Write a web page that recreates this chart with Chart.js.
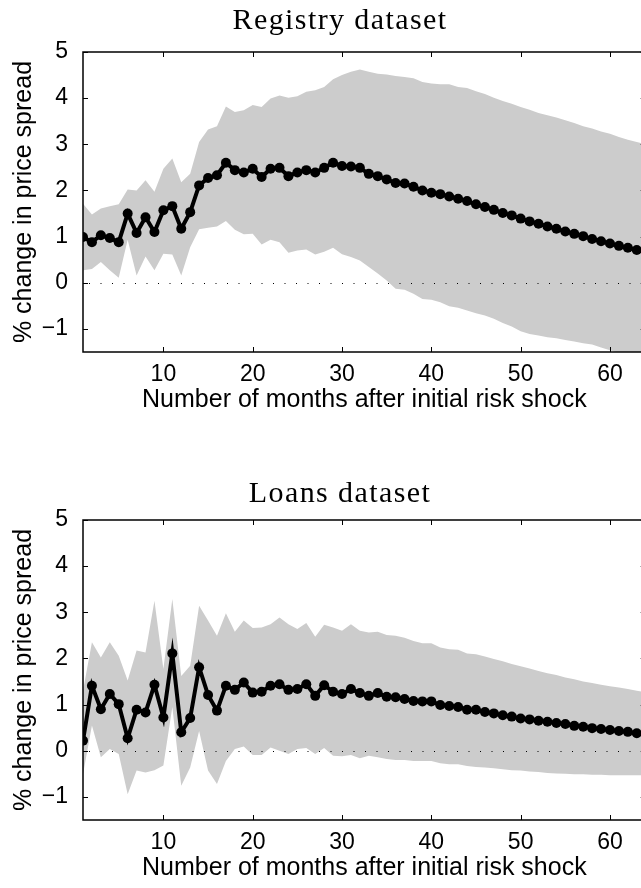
<!DOCTYPE html>
<html>
<head>
<meta charset="utf-8">
<script src="https://cdn.jsdelivr.net/npm/chart.js@4.4.1/dist/chart.umd.min.js"></script>
<style>
  html, body { margin: 0; padding: 0; background: #fff; width: 641px; height: 888px; overflow: hidden; }
  .painel { width: 660px; height: 444px; }
  canvas { display: block; }
</style>
</head>
<body>
<div class="painel"><canvas id="chartRegistro" width="660" height="444"></canvas></div>
<div class="painel"><canvas id="chartEmprestimos" width="660" height="444"></canvas></div>
<script>
// meses após o choque (eixo x) e marcas dos eixos
const meses = [
  1, 2, 3, 4, 5, 6, 7, 8, 9, 10, 11, 12, 13, 14, 15, 16,
  17, 18, 19, 20, 21, 22, 23, 24, 25, 26, 27, 28, 29, 30, 31, 32,
  33, 34, 35, 36, 37, 38, 39, 40, 41, 42, 43, 44, 45, 46, 47, 48,
  49, 50, 51, 52, 53, 54, 55, 56, 57, 58, 59, 60, 61, 62, 63, 64,
];
const ticksMeses = [10, 20, 30, 40, 50, 60];
const ticksSpread = [-1, 0, 1, 2, 3, 4, 5];

// Registry dataset
const registroSpread = [
  0.99, 0.88, 1.03, 0.97, 0.88, 1.50, 1.08, 1.42, 1.10, 1.57,
  1.66, 1.17, 1.53, 2.11, 2.27, 2.33, 2.60, 2.44, 2.39, 2.47,
  2.29, 2.47, 2.49, 2.31, 2.39, 2.44, 2.39, 2.49, 2.60, 2.53,
  2.52, 2.49, 2.36, 2.31, 2.24, 2.16, 2.15, 2.08, 2.00, 1.95,
  1.92, 1.87, 1.82, 1.77, 1.70, 1.64, 1.58, 1.51, 1.46, 1.39,
  1.33, 1.28, 1.22, 1.17, 1.11, 1.06, 1.01, 0.95, 0.90, 0.85,
  0.80, 0.76, 0.71, 0.67,
];
const registroSuperior = [
  1.71, 1.48, 1.61, 1.66, 1.70, 2.02, 2.00, 2.22, 1.97, 2.47,
  2.69, 2.18, 2.36, 3.05, 3.32, 3.39, 3.82, 3.70, 3.74, 3.85,
  3.81, 3.99, 4.06, 4.01, 4.04, 4.14, 4.17, 4.24, 4.41, 4.50,
  4.57, 4.62, 4.57, 4.53, 4.51, 4.48, 4.46, 4.43, 4.35, 4.32,
  4.30, 4.30, 4.24, 4.22, 4.15, 4.09, 4.01, 3.94, 3.88, 3.81,
  3.75, 3.68, 3.63, 3.58, 3.52, 3.46, 3.39, 3.34, 3.28, 3.23,
  3.16, 3.10, 3.05, 3.00,
];
const registroInferior = [
  0.27, 0.30, 0.45, 0.27, 0.11, 0.93, 0.16, 0.57, 0.27, 0.63,
  0.61, 0.16, 0.77, 1.16, 1.19, 1.22, 1.34, 1.15, 1.05, 1.06,
  0.83, 0.93, 0.88, 0.65, 0.70, 0.72, 0.61, 0.67, 0.76, 0.62,
  0.56, 0.48, 0.34, 0.20, 0.05, -0.13, -0.15, -0.24, -0.35, -0.37,
  -0.42, -0.51, -0.54, -0.60, -0.66, -0.71, -0.78, -0.87, -0.95, -1.05,
  -1.11, -1.14, -1.18, -1.20, -1.24, -1.27, -1.31, -1.34, -1.40, -1.46,
  -1.52, -1.58, -1.63, -1.68,
];

// Loans dataset
const emprestimosSpread = [
  0.22, 1.41, 0.90, 1.23, 1.01, 0.27, 0.89, 0.83, 1.43, 0.72,
  2.11, 0.40, 0.71, 1.81, 1.21, 0.87, 1.41, 1.32, 1.48, 1.26,
  1.28, 1.41, 1.44, 1.32, 1.34, 1.44, 1.19, 1.42, 1.28, 1.23,
  1.34, 1.25, 1.19, 1.25, 1.17, 1.16, 1.12, 1.08, 1.07, 1.07,
  0.99, 0.97, 0.95, 0.89, 0.89, 0.84, 0.81, 0.77, 0.74, 0.70,
  0.68, 0.65, 0.63, 0.60, 0.58, 0.54, 0.52, 0.49, 0.47, 0.45,
  0.43, 0.41, 0.38, 0.36,
];
const emprestimosSuperior = [
  1.30, 2.35, 2.02, 2.35, 2.06, 1.52, 2.17, 2.13, 3.25, 1.77,
  3.29, 1.62, 1.84, 3.14, 2.82, 2.49, 2.98, 2.58, 2.82, 2.66,
  2.67, 2.74, 2.89, 2.74, 2.64, 2.77, 2.47, 2.73, 2.67, 2.60,
  2.74, 2.60, 2.56, 2.58, 2.51, 2.49, 2.45, 2.38, 2.33, 2.33,
  2.24, 2.20, 2.19, 2.11, 2.09, 2.04, 1.99, 1.94, 1.88, 1.83,
  1.78, 1.73, 1.68, 1.64, 1.59, 1.55, 1.50, 1.47, 1.43, 1.40,
  1.37, 1.34, 1.30, 1.27,
];
const emprestimosInferior = [
  -0.51, 0.55, -0.14, 0.04, -0.07, -0.94, -0.43, -0.47, -0.42, -0.32,
  0.95, -0.76, -0.36, 0.43, -0.43, -0.72, -0.22, 0.04, 0.09, -0.09,
  -0.09, 0.07, 0.00, -0.07, 0.04, 0.06, -0.07, 0.06, -0.11, -0.12,
  -0.09, -0.16, -0.11, -0.14, -0.18, -0.20, -0.20, -0.22, -0.22, -0.22,
  -0.27, -0.29, -0.29, -0.33, -0.35, -0.36, -0.38, -0.40, -0.42, -0.43,
  -0.45, -0.46, -0.48, -0.49, -0.50, -0.51, -0.51, -0.52, -0.52, -0.53,
  -0.53, -0.53, -0.53, -0.53,
];

const FONTE_SANS = '"Liberation Sans", Arial, sans-serif';
const FONTE_SERIF = '"Liberation Serif", "DejaVu Serif", serif';

function pontos(serie) {
  return meses.map((m, i) => ({ x: m, y: serie[i] }));
}

// moldura estilo MATLAB: caixa, marcas para dentro, linha pontilhada no zero e textos
const moldura = {
  id: "moldura",
  afterDatasetsDraw(chart) {
    const { ctx, chartArea: a, scales } = chart;
    const x = scales.x;
    const y = scales.y;
    ctx.save();

    // linha pontilhada em y = 0
    const y0 = Math.round(y.getPixelForValue(0)) + 0.5;
    ctx.strokeStyle = "#000";
    ctx.lineWidth = 1;
    ctx.setLineDash([1, 10.5]);
    ctx.beginPath();
    ctx.moveTo(x.getPixelForValue(meses[0]) + 6, y0);
    ctx.lineTo(a.right, y0);
    ctx.stroke();
    ctx.setLineDash([]);

    // caixa
    ctx.lineWidth = 1.5;
    ctx.strokeRect(a.left, a.top, a.right - a.left, a.bottom - a.top);

    // marcas internas
    ctx.lineWidth = 1;
    const tam = 5;
    ctx.beginPath();
    ticksMeses.forEach((v) => {
      const px = Math.round(x.getPixelForValue(v)) + 0.5;
      ctx.moveTo(px, a.top);
      ctx.lineTo(px, a.top + tam);
      ctx.moveTo(px, a.bottom);
      ctx.lineTo(px, a.bottom - tam);
    });
    ticksSpread.forEach((v) => {
      const py = Math.round(y.getPixelForValue(v)) + 0.5;
      ctx.moveTo(a.left, py);
      ctx.lineTo(a.left + tam, py);
      ctx.moveTo(a.right, py);
      ctx.lineTo(a.right - tam, py);
    });
    ctx.stroke();
    ctx.restore();
  },
  afterDraw(chart, args, opts) {
    const { ctx, chartArea: a } = chart;
    ctx.save();
    ctx.fillStyle = "#000";
    ctx.textAlign = "center";
    ctx.textBaseline = "alphabetic";

    ctx.font = `30px ${FONTE_SERIF}`;
    ctx.letterSpacing = "1.4px";
    ctx.fillText(opts.titulo, opts.tituloX, a.top - opts.tituloGap);
    ctx.letterSpacing = "0px";

    ctx.font = `25px ${FONTE_SANS}`;
    ctx.fillText("Number of months after initial risk shock", (a.left + a.right) / 2, a.bottom + 55);

    ctx.translate(31, (a.top + a.bottom) / 2);
    ctx.rotate(-Math.PI / 2);
    ctx.fillText("% change in price spread", 0, 0);
    ctx.restore();
  },
};

function criarPainel(canvasId, titulo, tituloGap, padTopo, alturaEixoX, serie, superior, inferior) {
  const ctx = document.getElementById(canvasId).getContext("2d");
  return new Chart(ctx, {
    type: "line",
    data: {
      datasets: [
        {
          data: pontos(serie),
          borderColor: "#000",
          backgroundColor: "#000",
          borderWidth: 4,
          pointRadius: 5,
          pointBorderWidth: 0,
          tension: 0,
          fill: false,
          order: 0,
        },
        {
          data: pontos(inferior),
          borderWidth: 0,
          pointRadius: 0,
          fill: false,
          order: 2,
        },
        {
          data: pontos(superior),
          borderWidth: 0,
          pointRadius: 0,
          backgroundColor: "#cccccc",
          fill: "-1",
          order: 1,
        },
      ],
    },
    options: {
      responsive: false,
      devicePixelRatio: 1,
      animation: false,
      events: [],
      layout: { padding: { top: padTopo, right: 660 - 645.7, left: 0, bottom: 0 } },
      plugins: {
        legend: { display: false },
        tooltip: { enabled: false },
        moldura: { titulo, tituloX: 340, tituloGap },
      },
      scales: {
        x: {
          type: "linear",
          min: meses[0],
          max: meses[meses.length - 1],
          grid: { display: false, drawTicks: false },
          border: { display: false },
          afterBuildTicks: (s) => { s.ticks = ticksMeses.map((v) => ({ value: v })); },
          afterFit: (s) => { s.height = alturaEixoX; },
          ticks: {
            padding: 9,
            maxRotation: 0,
            color: "#000",
            font: { family: FONTE_SANS, size: 23 },
          },
        },
        y: {
          type: "linear",
          min: -1.5,
          max: 5,
          grid: { display: false, drawTicks: false },
          border: { display: false },
          afterBuildTicks: (s) => { s.ticks = ticksSpread.map((v) => ({ value: v })); },
          afterFit: (s) => { s.width = 83; },
          ticks: {
            padding: 15,
            color: "#000",
            font: { family: FONTE_SANS, size: 23 },
            callback: (v) => (v < 0 ? "\u2212" + Math.abs(v) : String(v)),
          },
        },
      },
    },
    plugins: [moldura],
  });
}

criarPainel("chartRegistro", "Registry dataset", 23, 52, 92,
  registroSpread, registroSuperior, registroInferior);
criarPainel("chartEmprestimos", "Loans dataset", 18, 76, 68,
  emprestimosSpread, emprestimosSuperior, emprestimosInferior);
</script>
</body>
</html>
